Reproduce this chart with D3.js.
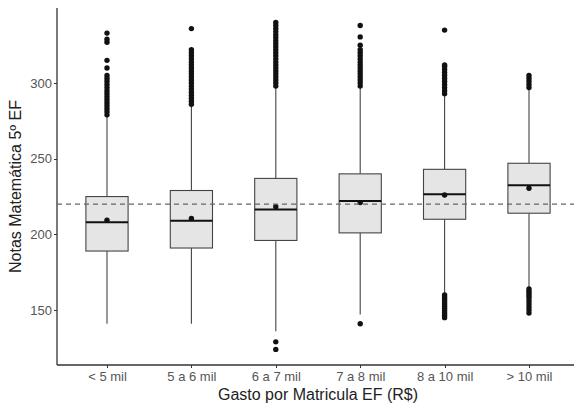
<!DOCTYPE html>
<meta charset="utf-8">
<style>
body { margin: 0; background: #fff; }
.axis path, .axis line { stroke: #333; shape-rendering: crispEdges; }
.axis text { fill: #555; font: 13px "Liberation Sans", Arial, sans-serif; }
.title { fill: #222; font: 16px "Liberation Sans", Arial, sans-serif; }
</style>
<svg width="574" height="407"></svg>
<script src="https://cdn.jsdelivr.net/npm/d3@7"></script>
<script>
// categorias e estatísticas
const categories = ["< 5 mil", "5 a 6 mil", "6 a 7 mil", "7 a 8 mil", "8 a 10 mil", "> 10 mil"];
const q1 =     [189, 191, 196, 201, 210, 214];
const median = [208, 209, 216.5, 222, 226.5, 232.5];
const q3 =     [225, 229, 237, 240, 243, 247];
const whiskerLow =  [141, 141, 136, 147, 161, 165];
const whiskerHigh = [278, 285, 297, 297, 292, 296];
const means =  [209.3, 210.5, 218.3, 221, 226, 230.5];
const outliers = [
  [279, 281, 283, 285, 287, 289, 291, 293, 295, 297, 299, 301, 303, 305, 310, 315, 327, 329, 333],
  [286, 288, 290, 292, 294, 296, 298, 300, 302, 304, 306, 308, 310, 312, 314, 316, 318, 320, 322, 336],
  [298, 300, 302, 304, 306, 308, 310, 312, 314, 316, 318, 320, 322, 324, 326, 328, 330, 332, 334, 336, 338, 340, 129, 124],
  [298, 300, 302, 304, 306, 308, 310, 312, 314, 316, 318, 320, 322, 325, 330.5, 338, 141],
  [293, 295, 297, 299, 301, 303, 305, 307, 309, 311, 312, 335, 160, 158.5, 157, 155.5, 154, 152.5, 151, 149.5, 148, 146.5, 145],
  [297, 299, 301, 303, 305, 164, 162.5, 161, 159.5, 158, 156, 154, 152, 150, 148]
];
const yTicks = [150, 200, 250, 300];
const refLine = 220;

const svg = d3.select("svg"),
    pLeft = 57, pTop = 8, pBottom = 365, pRight = 574;

const x = d3.scalePoint().domain(categories).range([107, 529]);
const step = x.step();
const boxW = step * 0.5;
const y = d3.scaleLinear().domain([113.7, 349.6]).range([pBottom, pTop]);

// eixos
svg.append("g")
    .attr("class", "axis")
    .attr("transform", "translate(" + pLeft + ",0)")
    .call(d3.axisLeft(y).tickValues(yTicks).tickSize(3).tickSizeOuter(0).tickPadding(2))
    .call(g => g.select(".domain").remove());

svg.append("line")
    .attr("x1", pLeft).attr("x2", pLeft).attr("y1", pTop).attr("y2", pBottom)
    .attr("stroke", "#333").attr("stroke-width", 1.3);

svg.append("g")
    .attr("class", "axis")
    .attr("transform", "translate(0," + pBottom + ")")
    .call(d3.axisBottom(x).tickSize(3).tickSizeOuter(0).tickPadding(4))
    .call(g => g.select(".domain").remove());

svg.append("line")
    .attr("x1", pLeft).attr("x2", pRight).attr("y1", pBottom).attr("y2", pBottom)
    .attr("stroke", "#333").attr("stroke-width", 1.3);

const data = categories.map((c, i) => ({
  cat: c, q1: q1[i], med: median[i], q3: q3[i],
  lo: whiskerLow[i], hi: whiskerHigh[i], mean: means[i], out: outliers[i]
}));

const box = svg.selectAll(".box").data(data).enter().append("g").attr("class", "box");

// bigodes
box.append("line")
    .attr("x1", d => x(d.cat)).attr("x2", d => x(d.cat))
    .attr("y1", d => y(d.q3)).attr("y2", d => y(d.hi))
    .attr("stroke", "#444").attr("stroke-width", 1.1);
box.append("line")
    .attr("x1", d => x(d.cat)).attr("x2", d => x(d.cat))
    .attr("y1", d => y(d.q1)).attr("y2", d => y(d.lo))
    .attr("stroke", "#444").attr("stroke-width", 1.1);

box.append("rect")
    .attr("x", d => x(d.cat) - boxW / 2)
    .attr("width", boxW)
    .attr("y", d => y(d.q3))
    .attr("height", d => y(d.q1) - y(d.q3))
    .attr("fill", "#e5e5e5")
    .attr("stroke", "#444")
    .attr("stroke-width", 1.1);

box.append("line")
    .attr("x1", d => x(d.cat) - boxW / 2).attr("x2", d => x(d.cat) + boxW / 2)
    .attr("y1", d => y(d.med)).attr("y2", d => y(d.med))
    .attr("stroke", "#111").attr("stroke-width", 2);

box.selectAll(".out")
    .data(d => d.out.map(v => ({cat: d.cat, v: v})))
    .enter().append("circle")
    .attr("cx", d => x(d.cat))
    .attr("cy", d => y(d.v))
    .attr("r", 2.7)
    .attr("fill", "#111");

box.append("circle")
    .attr("cx", d => x(d.cat))
    .attr("cy", d => y(d.mean))
    .attr("r", 2.7)
    .attr("fill", "#111");

// linha de referência
svg.append("line")
    .attr("x1", pLeft).attr("x2", pRight)
    .attr("y1", y(refLine)).attr("y2", y(refLine))
    .attr("stroke", "#666").attr("stroke-width", 1.4)
    .attr("stroke-dasharray", "5,4");

svg.append("text")
    .attr("class", "title")
    .attr("x", 318).attr("y", 400)
    .attr("text-anchor", "middle")
    .text("Gasto por Matricula EF (R$)");

svg.append("text")
    .attr("class", "title")
    .attr("transform", "translate(21," + ((pTop + pBottom) / 2) + ") rotate(-90)")
    .attr("text-anchor", "middle")
    .text("Notas Matemática 5º EF");
</script>
